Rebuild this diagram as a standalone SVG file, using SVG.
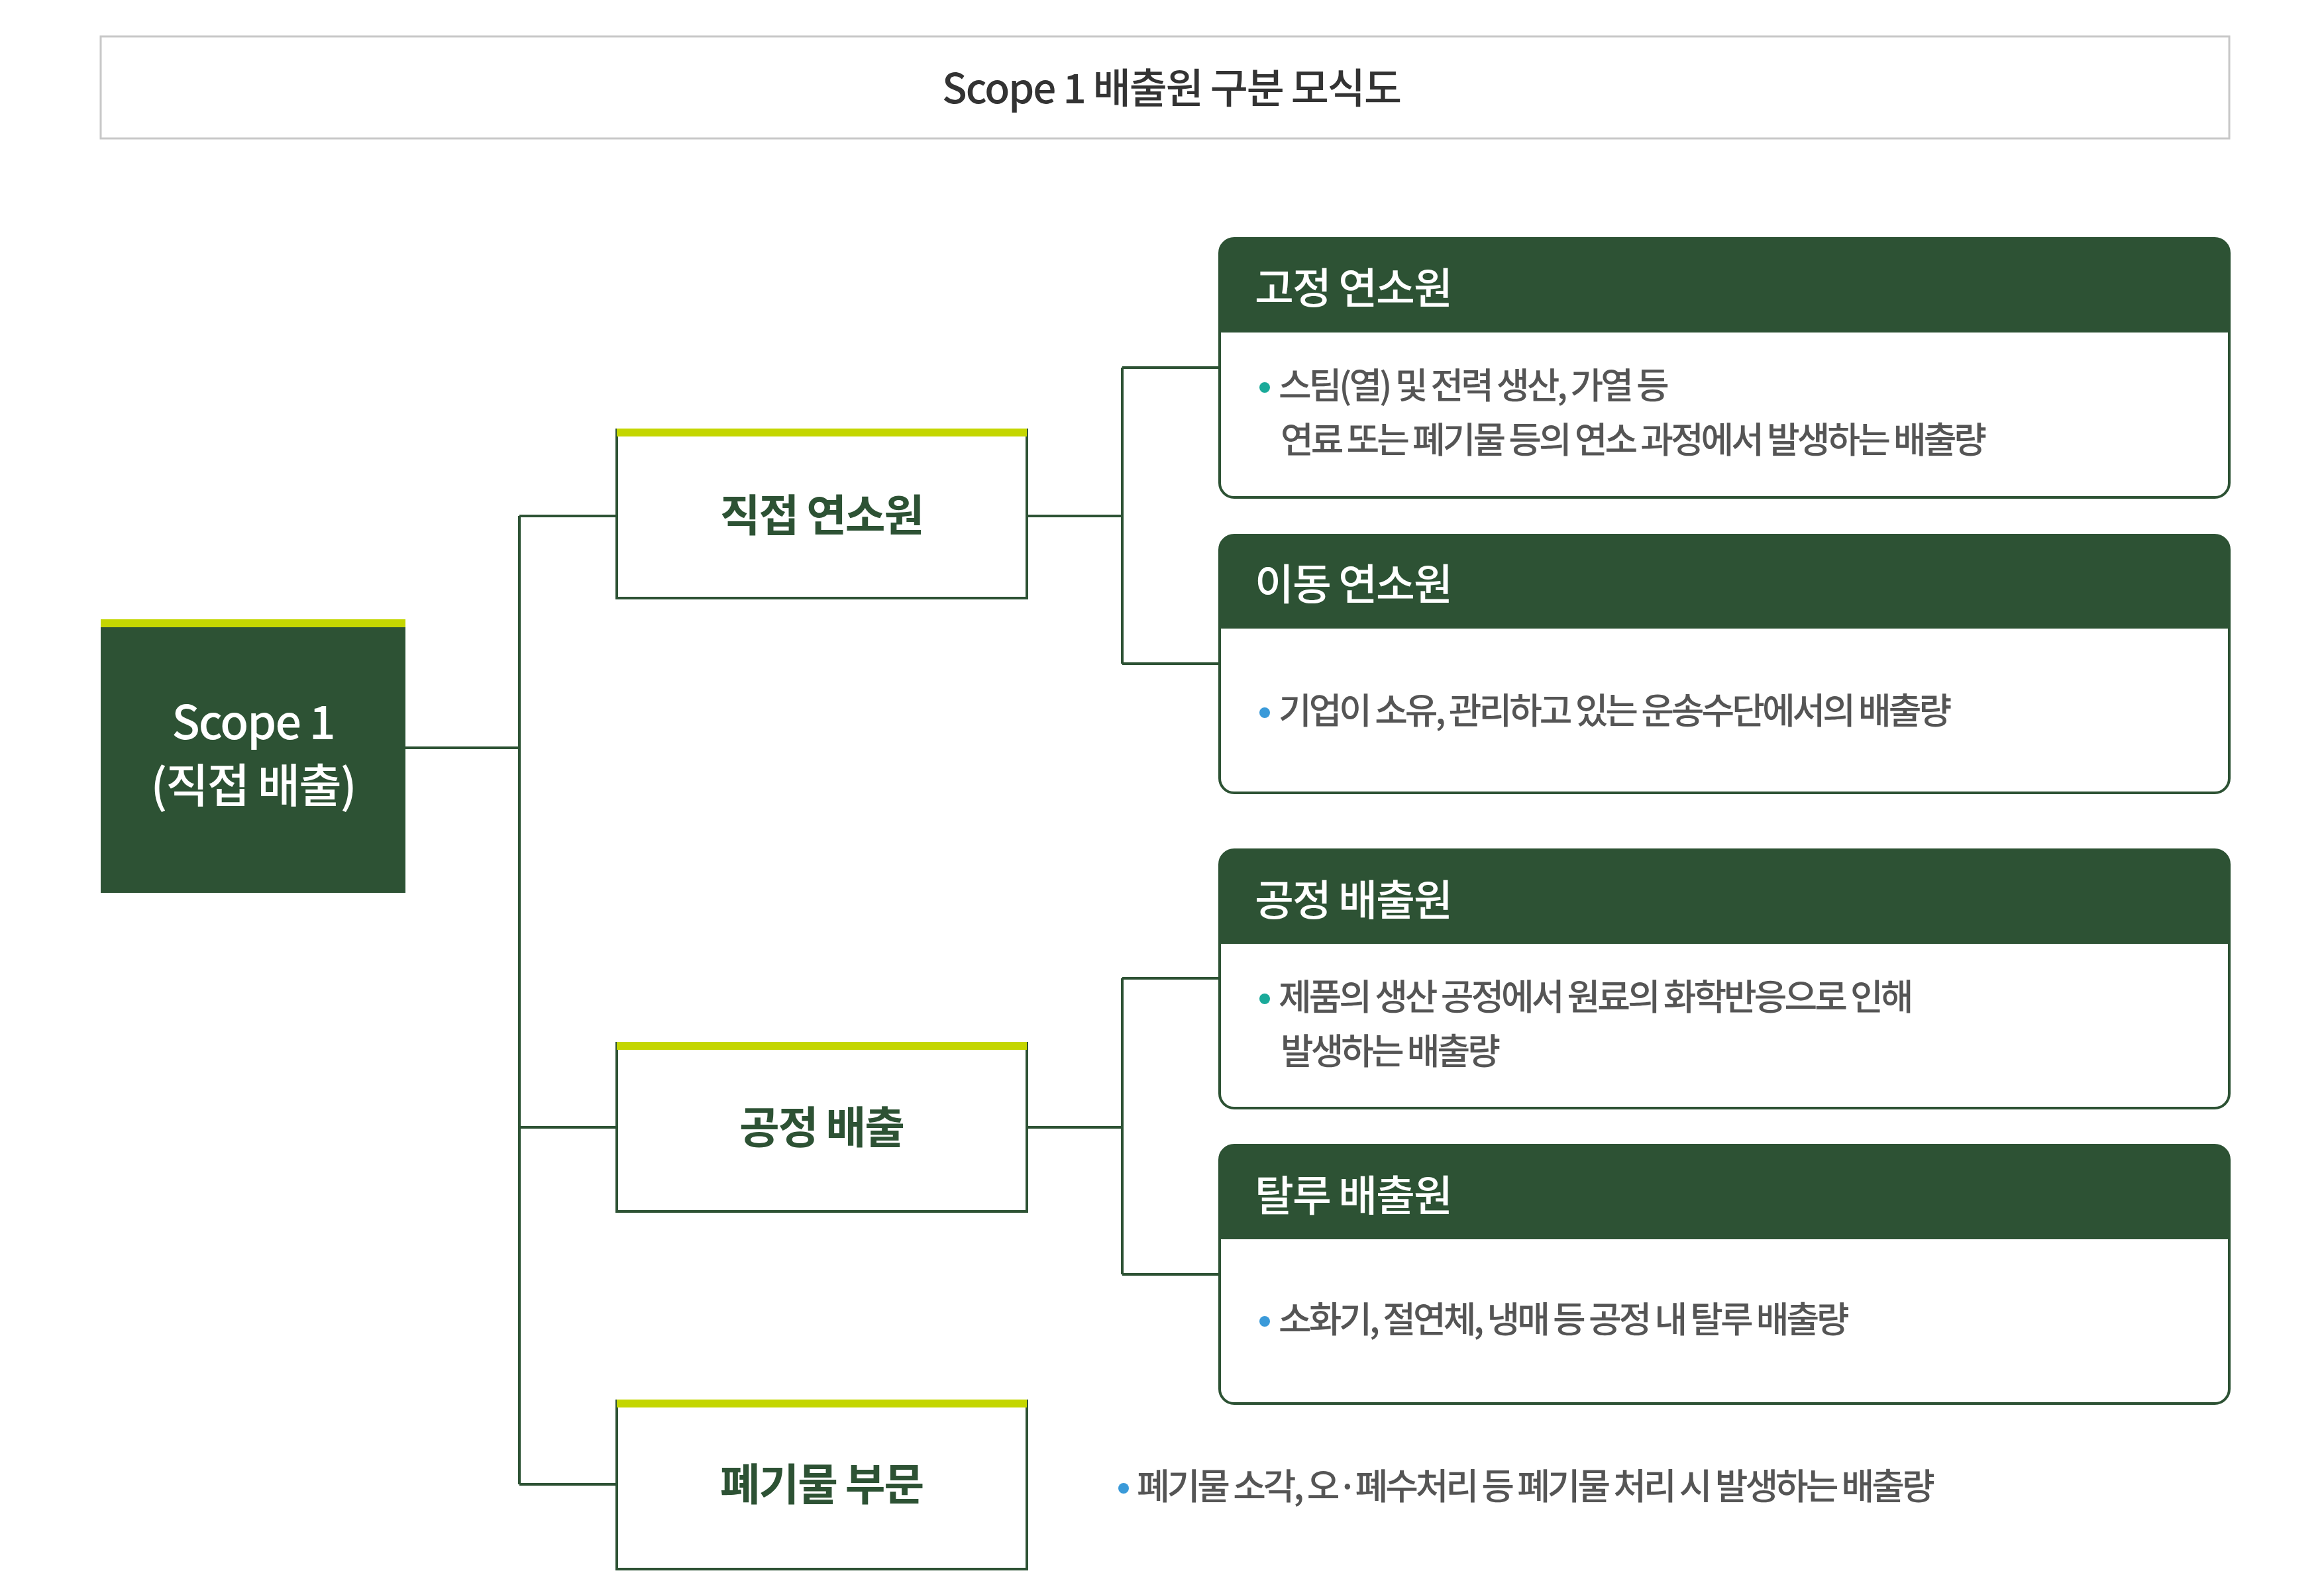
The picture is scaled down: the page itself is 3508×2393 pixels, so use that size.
<svg xmlns="http://www.w3.org/2000/svg" width="3508" height="2393" viewBox="0 0 3508 2393">
<style>
text{font-family:"Noto Sans CJK KR","Noto Sans",sans-serif}
.ln{fill:none;stroke:#2d5234;stroke-width:4}
.box{fill:#fff;stroke:#2d5234;stroke-width:4}
.lime{fill:#c4d600}
.bt{fill:#2d5234;font-size:66px;font-weight:700;text-anchor:middle;letter-spacing:-2px}
.hd{fill:#fff;font-size:64px;font-weight:500;letter-spacing:-2px}
.tx{fill:#555;font-size:54px;font-weight:500;letter-spacing:-4px}
</style>
<rect width="3508" height="2393" fill="#fff"/>
<g id="title"><rect x="152" y="55" width="3213" height="154" fill="#fff" stroke="#c8c8c8" stroke-width="3"/>
<text x="1768" y="156" text-anchor="middle" font-size="62" font-weight="500" fill="#333" letter-spacing="-2">Scope 1 배출원 구분 모식도</text></g>
<g id="connectors">
<path class="ln" d="M612 1129H784M784 779V2241M784 779H931M784 1702H931M784 2241H931"/>
<path class="ln" d="M1550 779H1694M1694 555V1002M1694 555H1841M1694 1002H1841"/>
<path class="ln" d="M1550 1702H1694M1694 1477V1924M1694 1477H1841M1694 1924H1841"/>
</g>
<g id="scope1"><rect x="152" y="946" width="460" height="402" fill="#2d5234"/><rect class="lime" x="152" y="935" width="460" height="12"/>
<text x="382" y="1116" fill="#fff" font-size="70" font-weight="500" text-anchor="middle" letter-spacing="-2">Scope 1</text>
<text x="382" y="1212" fill="#fff" font-size="70" font-weight="500" text-anchor="middle" letter-spacing="-2">(직접 배출)</text></g>
<g id="direct"><rect class="box" x="931" y="649" width="619" height="254"/><rect class="lime" x="931" y="647" width="619" height="12"/><text class="bt" x="1240" y="802">직접 연소원</text></g>
<g id="process"><rect class="box" x="931" y="1575" width="619" height="254"/><rect class="lime" x="931" y="1573" width="619" height="12"/><text class="bt" x="1240" y="1726">공정 배출</text></g>
<g id="waste"><rect class="box" x="931" y="2115" width="619" height="254"/><rect class="lime" x="931" y="2113" width="619" height="12"/><text class="bt" x="1240" y="2265">폐기물 부문</text></g>
<g id="card-fixed"><rect class="box" x="1841" y="360" width="1524" height="391" rx="22"/><path d="M1841 502V382a22 22 0 0 1 22-22H3343a22 22 0 0 1 22 22V502Z" fill="#2d5234"/>
<text class="hd" x="1894" y="458">고정 연소원</text>
<circle cx="1909" cy="585" r="8" fill="#1aaa9a"/><text class="tx" x="1930" y="602">스팀(열) 및 전력 생산, 가열 등</text><text class="tx" x="1933" y="684">연료 또는 폐기물 등의 연소 과정에서 발생하는 배출량</text></g>
<g id="card-mobile"><rect class="box" x="1841" y="808" width="1524" height="389" rx="22"/><path d="M1841 949V830a22 22 0 0 1 22-22H3343a22 22 0 0 1 22 22V949Z" fill="#2d5234"/>
<text class="hd" x="1894" y="905">이동 연소원</text>
<circle cx="1909" cy="1076" r="8" fill="#3a9ad9"/><text class="tx" x="1930" y="1093">기업이 소유, 관리하고 있는 운송수단에서의 배출량</text></g>
<g id="card-process"><rect class="box" x="1841" y="1283" width="1524" height="390" rx="22"/><path d="M1841 1425V1305a22 22 0 0 1 22-22H3343a22 22 0 0 1 22 22V1425Z" fill="#2d5234"/>
<text class="hd" x="1894" y="1382">공정 배출원</text>
<circle cx="1909" cy="1508" r="8" fill="#1aaa9a"/><text class="tx" x="1930" y="1525">제품의 생산 공정에서 원료의 화학반응으로 인해</text><text class="tx" x="1933" y="1607">발생하는 배출량</text></g>
<g id="card-fugitive"><rect class="box" x="1841" y="1729" width="1524" height="390" rx="22"/><path d="M1841 1871V1751a22 22 0 0 1 22-22H3343a22 22 0 0 1 22 22V1871Z" fill="#2d5234"/>
<text class="hd" x="1894" y="1828">탈루 배출원</text>
<circle cx="1909" cy="1995" r="8" fill="#3a9ad9"/><text class="tx" x="1930" y="2012">소화기, 절연체, 냉매 등 공정 내 탈루 배출량</text></g>
<g id="waste-desc"><circle cx="1696" cy="2247" r="8" fill="#3a9ad9"/><text class="tx" x="1716" y="2264">폐기물 소각, 오·폐수처리 등 폐기물 처리 시 발생하는 배출량</text></g>
</svg>
